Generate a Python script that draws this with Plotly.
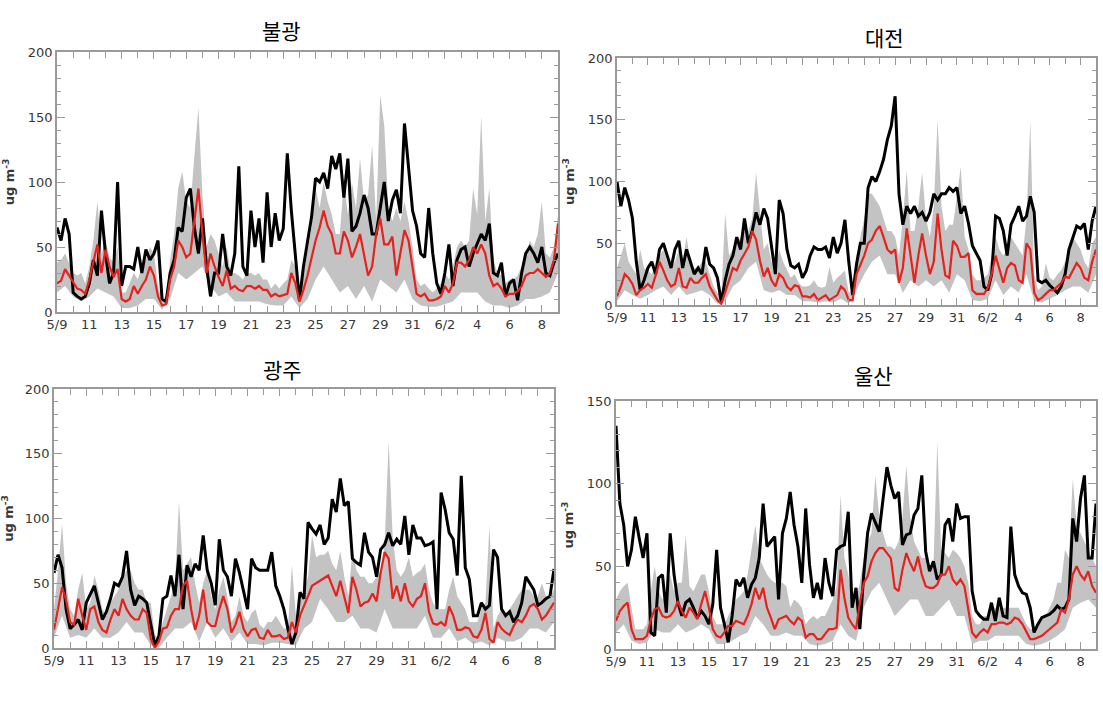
import numpy as np
import plotly.graph_objects as go

# ---------------- data ----------------
# time axis: days since 5/9 00:00 (6-hourly and 12-hourly samples)
DAYS_6H = [i * 0.25 for i in range(125)]
DAYS_12H = [i * 0.5 for i in range(63)]
TICK_DAYS = list(range(0, 31, 2))
TICK_LABELS = ["5/9", "11", "13", "15", "17", "19", "21", "23", "25", "27",
               "29", "31", "6/2", "4", "6", "8"]

# ---- 불광 ----
bulgwang_obs = [
    65, 55, 72, 60,   15, 12, 10, 12,   22, 40, 28, 78,   45, 22, 30, 100,
    20, 35, 35, 33,   50, 30, 48, 40,   45, 55, 10, 8,    30, 40, 65, 62,
    88, 95, 65, 45,   72, 35, 12, 30,   30, 60, 35, 28,   45, 112, 35, 28,
    78, 50, 72, 38,   92, 50, 76, 55,   64, 122, 78, 40,  9, 35, 55, 73,
    103, 100, 107, 95, 120, 110, 122, 88, 118, 62, 66, 76, 90, 80, 60, 60,
    80, 100, 70, 86,  94, 76, 145, 110, 78, 66, 45, 42,  80, 45, 22, 14,
    30, 52, 20, 40,   48, 50, 35, 45,   52, 60, 55, 68,   30, 28, 38, 12,
    22, 25, 9, 30,    45, 50, 45, 38,   50, 30, 28, 38,   45]
bulgwang_model = [
    22, 24, 33, 28,   22, 18, 17, 14,   25, 38, 52, 30,   48, 35, 27, 33,
    10, 8, 10, 20,    14, 20, 25, 35,   28, 12, 5, 6,     25, 35, 55, 50,
    42, 45, 68, 95,   60, 30, 45, 35,   27, 20, 32, 18,   20, 17, 16, 20,
    20, 18, 20, 17,   17, 12, 14, 12,   13, 14, 30, 22,   8, 17, 28, 42,
    55, 65, 78, 66,   60, 45, 45, 62,   55, 42, 50, 60,   45, 28, 35, 60,
    72, 52, 52, 58,   28, 45, 63, 55,   35, 14, 12, 14,   9, 9, 10, 12,
    20, 15, 22, 38,   38, 35, 40, 50,   45, 52, 45, 28,   20, 22, 18, 12,
    14, 14, 16, 20,   28, 30, 30, 33,   30, 27, 30, 40,   68]
bulgwang_max = [
    38, 40, 45, 38,   30, 28, 30, 22,   35, 55, 85, 45,   55, 42, 38, 50,
    15, 15, 22, 30,   25, 35, 40, 50,   45, 20, 10, 12,   40, 60, 95, 108,
    85, 80, 120, 157, 90, 50, 60, 55,   45, 35, 50, 30,   30, 28, 25, 30,
    30, 28, 30, 25,   25, 18, 22, 18,   22, 25, 40, 35,   10, 28, 45, 65,
    95, 80, 100, 85,  75, 60, 60, 100,  75, 100, 80, 118, 85, 90, 128, 70,
    167, 143, 80, 70, 80, 70, 85, 70,   50, 25, 20, 22,   18, 15, 18, 22,
    30, 25, 35, 50,   55, 50, 55, 95,   75, 151, 70, 95,  40, 30, 28, 22,
    25, 25, 28, 35,   42, 55, 50, 60,   85, 45, 42, 50,   75]
bulgwang_min = [
    15, 20, 12, 8, 12, 18, 15, 12, 3, 3,
    5, 10, 10, 2, 10, 30, 25, 30, 35, 20,
    12, 15, 8, 8, 8, 8, 6, 5, 5, 12,
    3, 10, 25, 35, 25, 15, 20, 10, 20, 8,
    25, 20, 15, 25, 10, 5, 4, 4, 6, 8,
    15, 15, 15, 8, 5, 5, 3, 5, 10, 10,
    12, 15, 30]

# ---- 대전 ----
daejeon_obs = [
    100, 80, 95, 85,  70, 35, 12, 20,   30, 35, 25, 45,   50, 40, 30, 45,
    52, 30, 45, 35,   25, 30, 25, 47,   33, 30, 22, 2,    20, 33, 40, 55,
    45, 70, 50, 60,   75, 65, 78, 70,   47, 25, 85, 74,   45, 32, 30, 33,
    22, 28, 40, 47,   45, 45, 47, 38,   55, 42, 50, 69,   35, 8, 33, 50,
    50, 95, 104, 100, 108, 118, 134, 145, 169, 90, 65, 80, 74, 80, 72, 75,
    68, 75, 90, 85,   90, 90, 95, 92,   95, 74, 80, 66,   48, 42, 36, 15,
    12, 25, 72, 70,   60, 40, 65, 72,   80, 68, 72, 88,   75, 20, 18, 20,
    16, 13, 10, 15,   25, 45, 55, 64,   62, 66, 45, 68,   80]
daejeon_model = [
    7, 15, 25, 22,    17, 8, 12, 14,    17, 14, 24, 35,   28, 20, 15, 17,
    30, 15, 14, 22,   18, 18, 22, 25,   15, 9, 4, 1,      10, 20, 30, 28,
    36, 42, 47, 60,   53, 36, 23, 30,   20, 15, 25, 22,   15, 12, 16, 15,
    7, 7, 6, 9,       4, 6, 8, 4,       6, 8, 15, 12,     4, 4, 25, 32,
    40, 50, 53, 60,   64, 55, 45, 42,   45, 18, 30, 62,   40, 18, 40, 58,
    40, 25, 35, 74,   45, 24, 22, 52,   48, 39, 39, 42,   12, 9, 9, 9,
    14, 25, 40, 30,   18, 30, 34, 32,   20, 18, 50, 45,   10, 4, 6, 9,
    12, 12, 15, 18,   23, 22, 28, 34,   30, 22, 20, 35,   45]
daejeon_max = [
    30, 40, 50, 35,   30, 25, 45, 30,   28, 25, 35, 40,   45, 35, 30, 35,
    45, 35, 55, 35,   30, 30, 35, 35,   25, 15, 10, 8,    74, 40, 45, 50,
    55, 60, 60, 70,   107, 75, 45, 50,  35, 30, 45, 35,   28, 22, 25, 18,
    15, 15, 16, 20,   15, 14, 15, 31,   18, 22, 25, 28,   10, 12, 40, 55,
    70, 90, 90, 85,   80, 70, 60, 60,   55, 40, 70, 109,  60, 60, 80, 107,
    70, 55, 80, 150,  80, 60, 65, 65,   90, 112, 55, 45,  25, 20, 20, 22,
    25, 40, 55, 45,   40, 45, 55, 50,   45, 40, 70, 149,  25, 12, 15, 34,
    22, 20, 25, 28,   35, 40, 55, 50,   45, 35, 30, 50,   55]
daejeon_min = [
    3, 12, 8, 5, 8, 12, 15, 8, 15, 8,
    10, 12, 8, 1, 3, 15, 20, 30, 35, 12,
    10, 12, 8, 8, 3, 3, 2, 3, 2, 5,
    1, 12, 25, 35, 40, 25, 25, 10, 20, 15,
    20, 15, 20, 10, 25, 20, 4, 3, 5, 20,
    8, 15, 10, 25, 3, 2, 5, 8, 12, 15,
    15, 10, 25]

# ---- 광주 ----
gwangju_obs = [
    58, 72, 62, 30,   15, 18, 22, 14,   35, 42, 48, 35,   22, 28, 38, 50,
    48, 55, 75, 45,   33, 40, 38, 35,   18, 2, 9, 38,     40, 56, 40, 72,
    30, 64, 55, 65,   60, 87, 60, 50,   33, 84, 60, 55,   40, 69, 58, 45,
    30, 69, 62, 60,   60, 60, 74, 48,   40, 30, 15, 3,    12, 43, 38, 97,
    92, 88, 95, 80,   85, 115, 105, 131, 110, 113, 69, 66, 64, 89, 74, 70,
    55, 76, 80, 89,   79, 84, 80, 102,  72, 95, 85, 85,   79, 80, 82, 30,
    120, 107, 89, 84, 56, 133, 62, 53,  25, 25, 35, 30,   33, 76, 70, 30,
    25, 28, 20, 25,   35, 55, 50, 45,   33, 35, 38, 40,   61]
gwangju_model = [
    14, 30, 47, 37,   20, 18, 38, 25,   14, 30, 32, 20,   14, 12, 22, 30,
    25, 38, 30, 25,   22, 22, 30, 27,   7, 0, 5, 15,      16, 25, 30, 30,
    48, 52, 30, 14,   25, 45, 20, 17,   17, 30, 40, 30,   12, 18, 28, 15,
    9, 14, 15, 8,     7, 14, 9, 9,      10, 7, 8, 20,     12, 25, 32, 40,
    48, 50, 52, 54,   56, 48, 40, 52,   40, 27, 55, 45,   32, 35, 36, 42,
    36, 58, 74, 69,   38, 48, 36, 50,   36, 32, 38, 40,   50, 28, 19, 18,
    20, 17, 32, 25,   14, 14, 16, 15,   9, 8, 14, 27,     7, 4, 20, 15,
    12, 10, 17, 22,   20, 25, 32, 34,   30, 22, 25, 30,   35]
gwangju_max = [
    30, 60, 96, 50,   30, 25, 45, 58,   30, 35, 56, 45,   30, 25, 35, 40,
    45, 55, 60, 60,   50, 45, 45, 35,   35, 10, 8, 20,    30, 40, 50, 113,
    60, 65, 70, 50,   35, 50, 60, 40,   30, 45, 55, 40,   20, 25, 40, 25,
    20, 27, 30, 18,   15, 20, 20, 25,   20, 15, 15, 64,   25, 35, 45, 55,
    87, 70, 72, 72,   75, 65, 60, 75,   55, 40, 75, 60,   55, 55, 50, 50,
    55, 60, 80, 160,  85, 60, 55, 60,   70, 55, 58, 60,   65, 45, 35, 30,
    30, 30, 45, 55,   40, 35, 30, 20,   20, 20, 30, 35,   95, 15, 25, 30,
    25, 30, 35, 40,   45, 45, 45, 40,   40, 50, 40, 40,   45]
gwangju_min = [
    8, 25, 8, 10, 8, 15, 8, 8, 12, 20,
    12, 12, 2, 0, 8, 15, 15, 20, 5, 20,
    8, 15, 5, 12, 3, 3, 2, 4, 4, 3,
    2, 15, 20, 38, 30, 20, 20, 25, 15, 15,
    12, 30, 15, 15, 15, 15, 25, 8, 8, 15,
    5, 8, 3, 5, 2, 8, 5, 5, 8, 15,
    15, 12, 20]

# ---- 울산 ----
ulsan_obs = [
    135, 88, 75, 50,  60, 80, 67, 55,   70, 10, 8, 43,    45, 22, 70, 45,
    28, 20, 28, 30,   25, 19, 23, 20,   15, 27, 60, 25,   15, 4, 20, 42,
    38, 43, 31, 39,   43, 55, 88, 62,   65, 68, 30, 70,   79, 95, 75, 62,
    40, 85, 51, 31,   40, 30, 55, 40,   32, 60, 62, 63,   83, 25, 37, 12,
    45, 70, 82, 77,   71, 91, 110, 99,  91, 95, 63, 69,   70, 81, 85, 105,
    59, 47, 53, 42,   45, 75, 79, 65,   88, 79, 80, 80,   35, 23, 20, 18,
    18, 28, 17, 31,   20, 19, 74, 45,   38, 34, 33, 25,   10, 15, 19, 20,
    21, 23, 26, 24,   25, 30, 79, 65,   91, 105, 55, 55,  88]
ulsan_model = [
    17, 23, 26, 28,   12, 6, 6, 6,      8, 18, 24, 25,    20, 19, 20, 23,
    29, 23, 19, 25,   22, 18, 27, 35,   25, 12, 8, 7,     10, 14, 14, 17,
    16, 15, 20, 27,   37, 30, 37, 25,   19, 12, 18, 19,   20, 17, 15, 19,
    17, 7, 9, 9,      6, 6, 9, 12,      12, 13, 48, 31,   19, 15, 12, 28,
    40, 44, 53, 58,   61, 61, 58, 55,   37, 35, 48, 58,   52, 47, 56, 45,
    38, 37, 37, 39,   45, 45, 50, 42,   39, 42, 38, 25,   10, 7, 10, 12,
    10, 15, 15, 16,   16, 15, 16, 19,   18, 15, 10, 6,    6, 7, 8, 10,
    12, 14, 16, 24,   22, 30, 45, 50,   45, 42, 47, 38,   34]
ulsan_max = [
    30, 35, 38, 40,   25, 12, 12, 12,   15, 35, 50, 35,   30, 35, 45, 35,
    40, 40, 69, 38,   35, 40, 45, 45,   35, 20, 15, 15,   15, 20, 25, 30,
    32, 35, 45, 60,   75, 55, 50, 45,   42, 40, 40, 40,   38, 25, 30, 28,
    25, 15, 18, 20,   18, 20, 20, 25,   30, 38, 93, 55,   45, 30, 30, 40,
    55, 65, 70, 105,  80, 70, 62, 62,   60, 65, 80, 111,  80, 65, 60, 55,
    55, 50, 50, 125,  60, 58, 55, 60,   58, 55, 50, 40,   20, 15, 15, 20,
    20, 25, 25, 25,   25, 25, 25, 25,   25, 20, 15, 12,   12, 15, 20, 20,
    25, 30, 40, 40,   60, 55, 103, 75,  70, 65, 60, 55,   50]
ulsan_min = [
    10, 15, 5, 3, 4, 12, 10, 10, 15, 10,
    12, 15, 12, 3, 3, 5, 8, 10, 20, 15,
    8, 8, 10, 8, 8, 3, 2, 3, 5, 15,
    8, 5, 25, 35, 40, 30, 20, 25, 30, 30,
    20, 20, 25, 30, 20, 20, 3, 5, 5, 8,
    8, 8, 8, 3, 2, 3, 5, 8, 12, 25,
    28, 30, 25]

STATIONS = ["불광", "대전", "광주", "울산"]
OBS = [bulgwang_obs, daejeon_obs, gwangju_obs, ulsan_obs]
MODEL = [bulgwang_model, daejeon_model, gwangju_model, ulsan_model]
MAXV = [bulgwang_max, daejeon_max, gwangju_max, ulsan_max]
MINV = [bulgwang_min, daejeon_min, gwangju_min, ulsan_min]
YMAX = [200, 200, 200, 150]

# ---------------- layout ----------------
W, H = 1103, 705
# pixel boxes of the plot areas (left, right, top, bottom)
BOXES = [(57, 558, 52, 312), (617, 1096, 58, 305),
         (54, 554, 389, 648), (616, 1096, 401, 649)]
TITLE_POS = [(281, 30), (884, 37), (282, 369), (873, 375)]

AX = "#9a9a9a"
TXT = "#383838"
TICKFONT = dict(family="DejaVu Sans", size=13, color=TXT)

fig = go.Figure()
for i in range(4):
    xa = "x" if i == 0 else f"x{i+1}"
    ya = "y" if i == 0 else f"y{i+1}"
    # shaded min-max band
    fig.add_trace(go.Scatter(
        x=DAYS_6H + DAYS_12H[::-1], y=MAXV[i] + MINV[i][::-1],
        fill="toself", fillcolor="#c3c3c3", line=dict(width=0),
        mode="lines", hoverinfo="skip", showlegend=False, xaxis=xa, yaxis=ya))
    fig.add_trace(go.Scatter(
        x=DAYS_6H, y=OBS[i], mode="lines",
        line=dict(color="black", width=3), showlegend=False,
        xaxis=xa, yaxis=ya))
    fig.add_trace(go.Scatter(
        x=DAYS_6H, y=MODEL[i], mode="lines",
        line=dict(color="#e4231f", width=2.2), showlegend=False,
        xaxis=xa, yaxis=ya))

    l, r, t, b = BOXES[i]
    xkey = "xaxis" if i == 0 else f"xaxis{i+1}"
    ykey = "yaxis" if i == 0 else f"yaxis{i+1}"
    fig.update_layout({
        xkey: dict(
            domain=[l / W, r / W], anchor=ya, range=[0, 31], automargin=False,
            tickmode="array", tickvals=TICK_DAYS, ticktext=TICK_LABELS,
            ticks="inside", ticklen=7, tickcolor=AX, tickwidth=1,
            showline=True, linecolor=AX, linewidth=1.5, mirror="allticks",
            showgrid=False, zeroline=False,
            minor=dict(tickmode="linear", tick0=0, dtick=1, ticks="inside",
                       ticklen=6, tickcolor=AX, showgrid=False),
            tickfont=TICKFONT),
        ykey: dict(
            domain=[1 - b / H, 1 - t / H], anchor=xa, range=[0, YMAX[i]],
            automargin=False,
            tickmode="linear", tick0=0, dtick=50,
            ticks="inside", ticklen=8, tickcolor=AX, tickwidth=1,
            showline=True, linecolor=AX, linewidth=1.5, mirror="allticks",
            showgrid=False, zeroline=False,
            minor=dict(tickmode="linear", tick0=0, dtick=10, ticks="inside",
                       ticklen=4, tickcolor=AX, showgrid=False),
            tickfont=TICKFONT,
            title=dict(text="<b>ug m<sup>-3</sup></b>", standoff=10,
                       font=dict(family="DejaVu Sans", size=13, color=TXT))),
    })
    tx, ty = TITLE_POS[i]
    fig.add_annotation(
        x=tx / W, y=1 - ty / H, xref="paper", yref="paper",
        text=STATIONS[i], showarrow=False, xanchor="center", yanchor="middle",
        font=dict(family="Noto Sans CJK KR", size=21, color="black"))

fig.update_layout(
    width=W, height=H, margin=dict(l=0, r=0, t=0, b=0),
    paper_bgcolor="white", plot_bgcolor="white", showlegend=False)

fig.write_html("out.html",
               config={"displayModeBar": False},
               post_script="document.body.style.margin='0';"
                           "document.body.style.overflow='hidden';")
